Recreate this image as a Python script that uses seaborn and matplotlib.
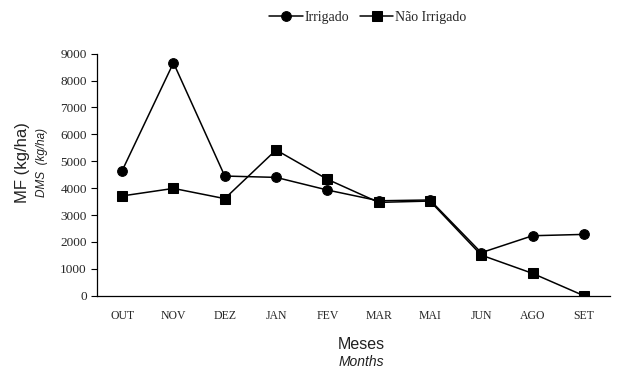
import numpy as np
import pandas as pd
import matplotlib
matplotlib.use("Agg")
import matplotlib.pyplot as plt
import seaborn as sns

meses = ["OUT", "NOV", "DEZ", "JAN", "FEV", "MAR", "MAI", "JUN", "AGO", "SET"]
irrigado = [4650, 8660, 4450, 4400, 3930, 3530, 3560, 1600, 2230, 2280]
nao_irrigado = [3710, 3990, 3610, 5420, 4330, 3470, 3520, 1510, 830, 0]
y_ticks = [0, 1000, 2000, 3000, 4000, 5000, 6000, 7000, 8000, 9000]

df = pd.DataFrame({
    "mes": meses * 2,
    "mf": irrigado + nao_irrigado,
    "trat": ["Irrigado"] * len(meses) + ["Não Irrigado"] * len(meses),
})

sns.set_style("white")
plt.rcParams["font.family"] = ["Liberation Serif", "DejaVu Serif"]

fig = plt.figure(figsize=(6.21, 3.70), dpi=100)
ax = fig.add_axes([0.1554, 0.2008, 0.8261, 0.6541])

sns.lineplot(
    data=df, x="mes", y="mf", style="trat",
    markers={"Irrigado": "o", "Não Irrigado": "s"}, dashes=False,
    color="black", sort=False, errorbar=None, legend=False,
    markersize=7, markeredgecolor="black", linewidth=1.1, ax=ax,
)

n = len(meses)
ax.set_xlim(-0.5, n - 0.5)
ax.set_ylim(0, 9000)
ax.set_yticks(y_ticks)
ax.set_yticklabels([str(v) for v in y_ticks], fontsize=9.5)
ax.set_xticks(np.arange(n))
ax.set_xticklabels(meses, fontsize=8.5)
ax.set_xticks(np.arange(n + 1) - 0.5, minor=True)
ax.tick_params(axis="x", which="major", length=0, pad=10)
ax.tick_params(axis="x", which="minor", length=4, width=0.8, direction="out", color="black")
ax.tick_params(axis="y", length=4, width=0.8, direction="out", color="black", left=True, pad=3)
ax.set_xlabel("")
ax.set_ylabel("")

for side in ["top", "right"]:
    ax.spines[side].set_visible(False)
for side in ["left", "bottom"]:
    ax.spines[side].set_color("black")
    ax.spines[side].set_linewidth(0.9)

sans = ["Liberation Sans", "DejaVu Sans"]
fig.text(0.037, 0.56, "MF (kg/ha)", rotation=90, ha="center", va="center",
         fontsize=12, family=sans, color="#222222")
fig.text(0.068, 0.56, "DMS  (kg/ha)", rotation=90, ha="center", va="center",
         fontsize=8.5, family=sans, style="italic", color="#222222")
fig.text(0.582, 0.07, "Meses", ha="center", va="center",
         fontsize=11.5, family=sans, color="#222222")
fig.text(0.582, 0.022, "Months", ha="center", va="center",
         fontsize=10, family=sans, style="italic", color="#222222")

handles = ax.get_lines()[:2]
fig.legend(handles, ["Irrigado", "Não Irrigado"], loc="center",
           bbox_to_anchor=(0.592, 0.954), ncol=2, frameon=False,
           fontsize=10, handlelength=2.4, handletextpad=0.1,
           columnspacing=0.8)

fig.savefig("out.png", dpi=100)
